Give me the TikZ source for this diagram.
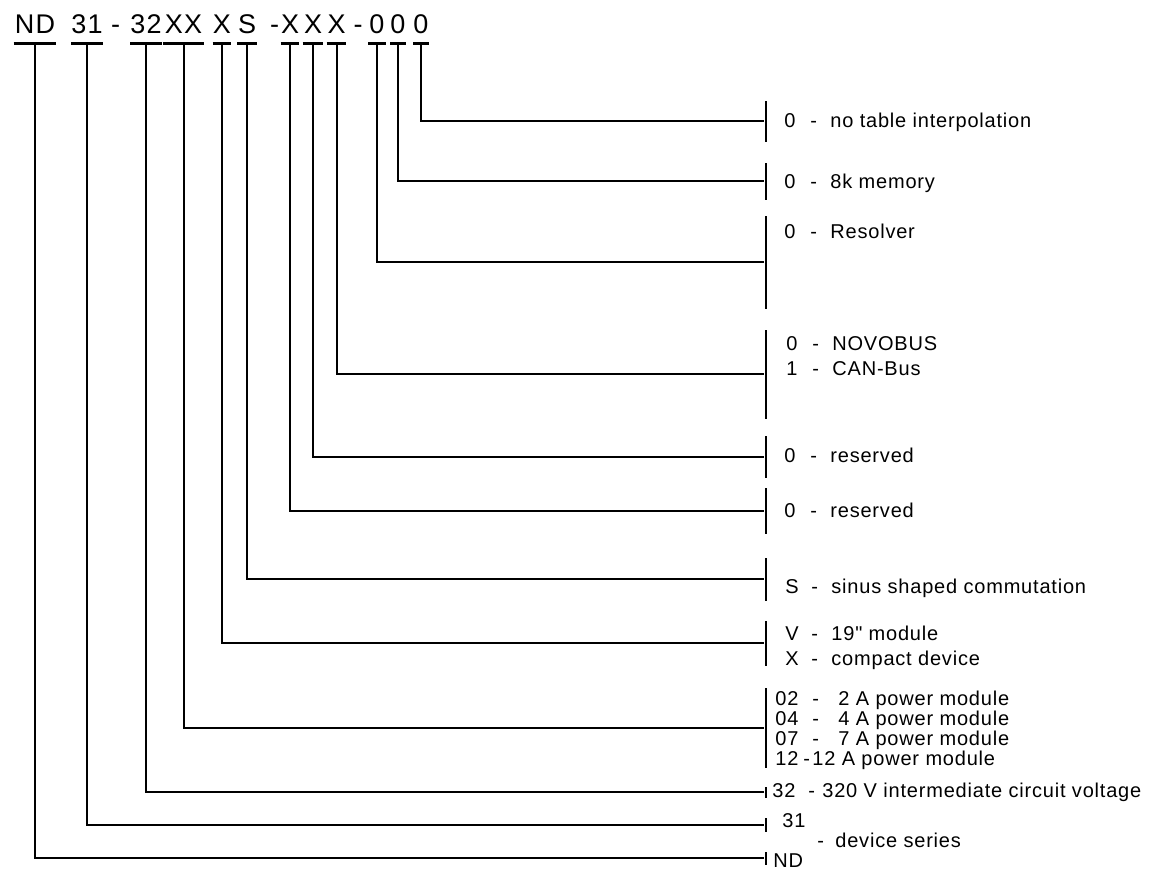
\documentclass[tikz,border=0pt]{standalone}
\usepackage{fontspec}
\setmainfont{Liberation Sans}[LetterSpace=4, Ligatures=TeXOff]
\newfontfamily\headfont{Liberation Sans}[LetterSpace=4]
\usetikzlibrary{positioning}
\newcommand{\optline}[2]{\makebox[13pt][l]{#1}\makebox[10pt][l]{-}#2}

\tikzset{
  tok/.style={font=\headfont\fontsize{13.5}{15}\selectfont, inner sep=0pt, anchor=base,
    text depth=5pt, minimum width=#1*0.5pt,
    append after command={(\tikzlastnode.south west) edge[line width=1.3pt] (\tikzlastnode.south east)}},
  dsh/.style={font=\headfont\fontsize{13.5}{15}\selectfont, inner sep=0pt, anchor=base},
  opt/.style={font=\fontsize{10}{12}\selectfont, inner sep=0pt, anchor=base west},
  rbar/.style={fill=black, inner sep=0pt, minimum width=1.25pt, minimum height=#1*0.5pt},
  elbow/.style={line width=1pt, to path={(\tikztostart.south) |- (\tikztotarget)}}
}

\begin{document}
\begin{tikzpicture}[x=0.5pt,y=-0.5pt]
        \useasboundingbox (0,0) rectangle (1165,878);

        % type code
        \node[tok=42](hND) at (35,33) {ND};
        \node[tok=29](h31) at (87,33) {31};
        \node[dsh](d1) at (115.5,33) {-};
        \node[tok=31](h32) at (146,33) {32};
        \node[tok=41](hXX) at (183.5,33) {XX};
        \node[tok=17](hX1) at (222,33) {X};
        \node[tok=19](hS) at (247,33) {S};
        \node[dsh](d2) at (274.5,33) {-};
        \node[tok=18](hX2) at (290,33) {X};
        \node[tok=20](hX3) at (313,33) {X};
        \node[tok=19](hX4) at (336.5,33) {X};
        \node[dsh](d3) at (358,33) {-};
        \node[tok=17](h0a) at (377,33) {0};
        \node[tok=15](h0b) at (398,33) {0};
        \node[tok=15](h0c) at (421,33) {0};

        % bars
        \node[rbar=41](bTab) at (766,121) {};
        \node[rbar=37](bMem) at (766,181) {};
        \node[rbar=93](bRes) at (766,262) {};
        \node[rbar=89](bBus) at (766,374) {};
        \node[rbar=42](bRsv1) at (766,457) {};
        \node[rbar=46](bRsv2) at (766,511) {};
        \node[rbar=43](bS) at (766,579) {};
        \node[rbar=45](bVX) at (766,643) {};
        \node[rbar=80](bPow) at (766,728) {};
        \node[rbar=11](bVolt) at (766,792) {};
        \node[rbar=14](bSer) at (766,825) {};
        \node[rbar=13](bND) at (766,858) {};

        % meanings
        \node[opt](tTab) at (784,127) {\optline{0}{no table interpolation}};
        \node[opt](tMem) at (784,188) {\optline{0}{8k memory}};
        \node[opt](tRes) at (784,238) {\optline{0}{Resolver}};
        \node[opt](tBus0) at (786,350) {\optline{0}{NOVOBUS}};
        \node[opt](tBus1) at (786,375) {\optline{1}{CAN-Bus}};
        \node[opt](tRsv1) at (784,462) {\optline{0}{reserved}};
        \node[opt](tRsv2) at (784,517) {\optline{0}{reserved}};
        \node[opt](tS) at (785,593) {\optline{S}{sinus shaped commutation}};
        \node[opt](tV) at (785,640) {\optline{V}{19" module}};
        \node[opt](tX) at (785,665) {\optline{X}{compact device}};
        \node[opt](tP02) at (775,705) {\makebox[18.5pt][l]{02}\makebox[13pt][l]{-}2 A power module};
        \node[opt](tP04) at (775,725) {\makebox[18.5pt][l]{04}\makebox[13pt][l]{-}4 A power module};
        \node[opt](tP07) at (775,745) {\makebox[18.5pt][l]{07}\makebox[13pt][l]{-}7 A power module};
        \node[opt](tP12) at (775,765) {\makebox[14pt][l]{12}\makebox[4.5pt][l]{-}12 A power module};
        \node[opt](tVolt) at (772,797) {\makebox[18pt][l]{32}\makebox[7pt][l]{-}320 V intermediate circuit voltage};
        \node[opt](tSer) at (782,827) {31};
        \node[opt](tDev) at (817,847) {\makebox[9pt][l]{-}device series};
        \node[opt](tND) at (773,867) {ND};

        \begin{scope}
          \draw
          (h0c) edge[elbow] (bTab)
          (h0b) edge[elbow] (bMem)
          (h0a) edge[elbow] (bRes)
          (hX4) edge[elbow] (bBus)
          (hX3) edge[elbow] (bRsv1)
          (hX2) edge[elbow] (bRsv2)
          (hS) edge[elbow] (bS)
          (hX1) edge[elbow] (bVX)
          (hXX) edge[elbow] (bPow)
          (h32) edge[elbow] (bVolt)
          (h31) edge[elbow] (bSer)
          (hND) edge[elbow] (bND);
        \end{scope}
      \end{tikzpicture}
\end{document}
